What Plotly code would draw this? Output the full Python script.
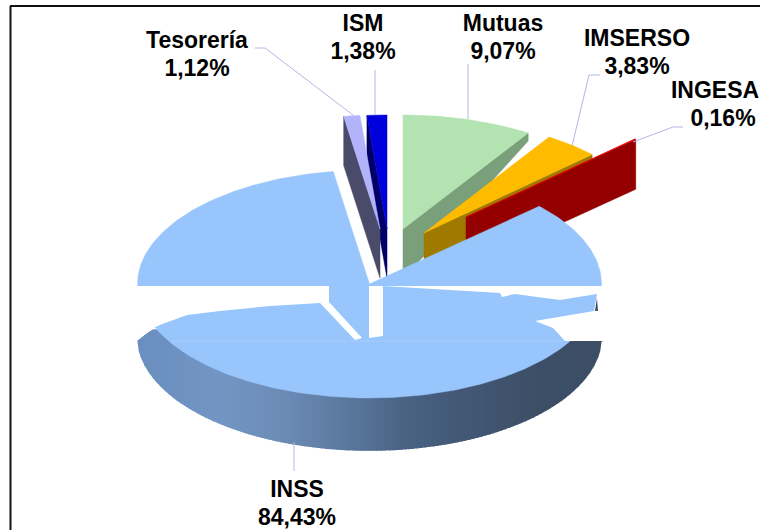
import numpy as np
import plotly.graph_objects as go

# ---- data ----
labels = ["Mutuas", "IMSERSO", "INGESA", "INSS", "Tesorería", "ISM"]
values = [9.07, 3.83, 0.16, 84.43, 1.12, 1.38]

# ---- drawing style / layout (pixel-space axes) ----
RX, RY = 232, 114
apex = {"Mutuas": (403, 229), "IMSERSO": (424, 233), "INGESA": (466, 217),
        "INSS": (369.5, 284), "Tesorería": (380, 229), "ISM": (387, 229)}
face = {"Mutuas": "#B2E3B0", "IMSERSO": "#FFBB00", "INGESA": "#F00000",
        "INSS": "#98C6FC", "Tesorería": "#B3B3FB", "ISM": "#0000DC"}
wall = {"Mutuas": "#7A9F7B", "IMSERSO": "#A07A00", "INGESA": "#940000",
        "Tesorería": "#4A4A6A", "ISM": "#000068"}
depth_in = {"Mutuas": 50, "IMSERSO": 50, "INGESA": 50, "Tesorería": 49, "ISM": 49}
depth_out = {"Mutuas": 8, "IMSERSO": 50, "INGESA": 50, "Tesorería": 49, "ISM": 49}
wall_edge = {"Mutuas": "end", "IMSERSO": "end", "INGESA": "end",
             "Tesorería": "start", "ISM": "start"}
draw_order = ["ISM", "Tesorería", "Mutuas", "IMSERSO", "INGESA"]
label_pos = {"Mutuas": (503, 25), "IMSERSO": (637, 40), "INGESA": (715, 92),
             "INSS": (297, 491), "Tesorería": (197, 42), "ISM": (363, 25)}
pct_dx = {"INGESA": 8}
LINE_GAP = 28
leaders = {"Mutuas": ([468, 468], [64, 119]),
           "IMSERSO": ([600, 589, 572], [75, 75, 146]),
           "INGESA": ([683, 673, 633], [127, 127, 142]),
           "INSS": ([294, 294], [442, 471]),
           "Tesorería": ([255, 265, 353], [48, 48, 115]),
           "ISM": ([375, 375], [70, 115])}
wall_x = [137, 220, 287, 360, 403, 453, 537, 602]
wall_rgb = [(106, 143, 192), (115, 150, 196), (108, 140, 182), (88, 116, 153),
            (75, 100, 132), (68, 90, 120), (62, 80, 104), (60, 78, 102)]

total = sum(values)
ends = np.cumsum(values) / total * 2 * np.pi
starts = ends - np.array(values) / total * 2 * np.pi
ang = {n: (s, e) for n, s, e in zip(labels, starts, ends)}


def rim(name, t):
    ax, ay = apex[name]
    return ax + RX * np.sin(t), ay - RY * np.cos(t)


fig = go.Figure()


def poly(xs, ys, color, name=None, lw=0.5):
    fig.add_trace(go.Scatter(x=list(xs), y=list(ys), mode="lines", fill="toself",
                             fillcolor=color, line=dict(color=color, width=lw),
                             hoverinfo="skip", showlegend=False, name=name))


def wedge(name):
    s, e = ang[name]
    ts = np.linspace(s, e, max(3, int((e - s) * 60)))
    x, y = rim(name, ts)
    ax, ay = apex[name]
    return [ax, *x, ax], [ay, *y, ay]


# exploded small slices: radial wall, then top face
for n in draw_order:
    t = ang[n][1] if wall_edge[n] == "end" else ang[n][0]
    px, py = rim(n, t)
    ax, ay = apex[n]
    poly([px, ax, ax, px, px], [py, ay, ay + depth_in[n], py + depth_out[n], py], wall[n], n)
    poly(*wedge(n), face[n], n)

# INSS outer wall: shaded strips along the front rim
cx, cy = apex["INSS"]
edges = np.arange(cx - RX, cx + RX + 4, 4)
for x0, x1 in zip(edges[:-1], edges[1:]):
    xs = np.linspace(x0, min(x1, cx + RX), 3)
    u = np.clip((xs - cx) / RX, -1, 1)
    arc = RY * np.sqrt(1 - u ** 2)
    top_lim = np.where(xs < 153, 341 - (xs - 137) * 0.69, np.where(xs < 300, 330, 341))
    upper = np.maximum(top_lim, cy + arc)
    lower = cy + 52 + arc
    mid = (x0 + x1) / 2
    c = [int(np.interp(mid, wall_x, [r[i] for r in wall_rgb])) for i in range(3)]
    col = f"rgb({c[0]},{c[1]},{c[2]})"
    poly([*xs, *xs[::-1], xs[0]], [*upper, *lower[::-1], upper[0]], col, lw=1.6)

# INSS top face
poly(*wedge("INSS"), face["INSS"], "INSS")
fig.add_trace(go.Scatter(x=[172, 564], y=[341, 341], mode="lines",
                         line=dict(color="#A9CDFB", width=1),
                         hoverinfo="skip", showlegend=False))

# leader lines
for n in labels:
    fig.add_trace(go.Scatter(x=leaders[n][0], y=leaders[n][1], mode="lines",
                             line=dict(color="#B5B5E8", width=1),
                             hoverinfo="skip", showlegend=False))

# labels: name and percentage on separate lines
fnt = dict(family="Liberation Sans", size=23, color="#000000", weight="bold")
for n, v in zip(labels, values):
    lx, ly = label_pos[n]
    pct = f"{v:.2f}%".replace(".", ",")
    fig.add_trace(go.Scatter(x=[lx, lx + pct_dx.get(n, 0)], y=[ly, ly + LINE_GAP], mode="text",
                             text=[n, pct], textposition="middle center", textfont=fnt,
                             cliponaxis=False, hoverinfo="skip", showlegend=False))


def path(pts):
    return "M" + " L".join(f"{x},{y}" for x, y in pts) + " Z"


# white break across the picture, as in the source image
mask_left = [(125, 286), (329, 286), (329, 302), (362, 338), (355, 340), (320, 303), (270, 306),
             (220, 311), (187, 315), (165, 323), (153, 328), (137, 341), (125, 341)]
mask_mid = [(369, 286), (383, 286), (383, 336), (369, 338)]
mask_right = [(383, 286), (610, 286), (610, 341), (565, 341), (553, 328), (535, 321), (594, 311),
              (597, 294), (560, 300), (515, 294), (502, 297), (500, 293)]
fleck = [(597, 298), (598, 311), (595, 311)]
shapes = [dict(type="path", path=path(m), fillcolor="white", line=dict(width=0), layer="above")
          for m in (mask_left, mask_mid, mask_right)]
shapes.append(dict(type="path", path=path(fleck), fillcolor="#3C4E66", line=dict(width=0), layer="above"))
# chart frame
shapes += [dict(type="line", x0=10.5, x1=10.5, y0=6, y1=530, line=dict(color="#111111", width=2)),
           dict(type="line", x0=10, x1=760, y0=6, y1=6, line=dict(color="#111111", width=2))]

fig.update_layout(width=760, height=530, margin=dict(l=0, r=0, t=0, b=0),
                  paper_bgcolor="white", plot_bgcolor="white", showlegend=False, shapes=shapes,
                  xaxis=dict(range=[0, 760], visible=False, fixedrange=True),
                  yaxis=dict(range=[530, 0], visible=False, fixedrange=True))
fig.write_html("out.html", post_script="document.body.style.margin='0';",
               config={"displayModeBar": False})
